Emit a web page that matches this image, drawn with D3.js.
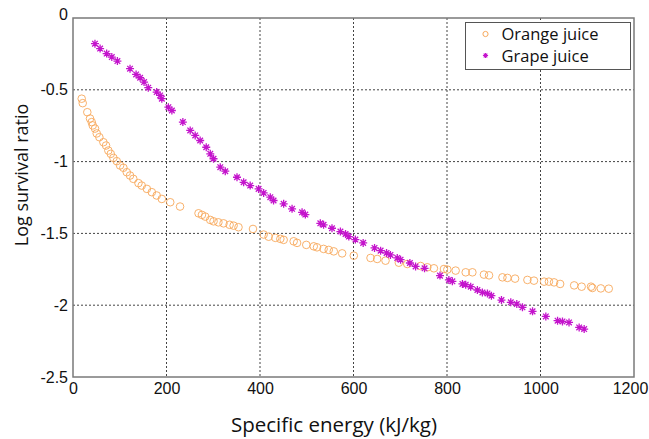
<!DOCTYPE html>
<html>
<head>
<meta charset="utf-8">
<script src="https://cdn.jsdelivr.net/npm/d3@7"></script>
<style>
  body { margin: 0; background: #fff; }
  svg { display: block; }
</style>
</head>
<body>
<div id="my_dataviz"></div>
<script>
// data: specific energy (kJ/kg) vs log survival ratio
var orangeX = [18.6, 20.8, 30.6, 36.4, 40, 42.2, 47.1, 50.8, 56.4, 65, 70.7, 75.6, 80.8, 86.4, 93.6, 100.7, 107.8, 115, 122, 129, 140, 147, 158, 168.6, 179, 190, 208, 229,
  268.5, 275.8, 282.8, 293.5, 300.6, 311, 322, 335, 343.5, 354, 385, 407.8, 418.5, 432.8, 443.5, 450.6, 472, 479.3, 499, 515, 522, 536, 547,
  557.8, 575.7, 600.6, 636.4, 650.7, 668.5, 697, 715, 743.5, 757.9, 772, 793.5, 800.7, 818.5, 840, 854.3, 879, 889.9, 918.6, 929.3, 945.6, 972, 986, 1007.7, 1018, 1029, 1042, 1072, 1088, 1108, 1111, 1129, 1146];
var orangeY = [-0.562, -0.593, -0.656, -0.70, -0.725, -0.748, -0.77, -0.804, -0.83, -0.865, -0.888, -0.923, -0.946, -0.974, -0.997, -1.027, -1.043, -1.074, -1.097, -1.12, -1.15, -1.167, -1.19, -1.213, -1.236, -1.26, -1.283, -1.313,
  -1.36, -1.371, -1.383, -1.406, -1.416, -1.423, -1.43, -1.44, -1.446, -1.457, -1.469, -1.508, -1.523, -1.531, -1.538, -1.545, -1.555, -1.566, -1.58, -1.59, -1.597, -1.608, -1.615,
  -1.625, -1.639, -1.655, -1.671, -1.678, -1.69, -1.704, -1.713, -1.727, -1.736, -1.743, -1.748, -1.752, -1.759, -1.771, -1.771, -1.787, -1.792, -1.806, -1.81, -1.815, -1.824, -1.829, -1.836, -1.836, -1.841, -1.852, -1.862, -1.871, -1.871, -1.88, -1.883, -1.885];

var grapeX = [47, 58, 72, 83, 95, 122, 135, 143.6, 152, 161, 179, 186.4, 190, 204, 211.5, 235, 250.7, 261.4, 272, 285, 293.6, 300.6, 315, 325.7, 350.8, 365, 379, 397, 407.8, 422, 429, 450.6, 468.6, 490,
  497, 529, 536, 554, 572, 583, 590, 604, 620.7, 645, 658, 670.7, 679, 693.6, 700.7, 720.6, 732.8, 752,
  785, 804, 811.5, 833, 840, 850.7, 865, 875.7, 886.5, 895, 916.5, 936.4, 949.3, 961.4, 983, 1011.4, 1036.5, 1047, 1061, 1082.7, 1093.4];
var grapeY = [-0.179, -0.213, -0.248, -0.272, -0.30, -0.353, -0.393, -0.416, -0.446, -0.485, -0.516, -0.539, -0.562, -0.621, -0.644, -0.725, -0.783, -0.818, -0.853, -0.9, -0.946, -0.98, -1.039, -1.067, -1.109, -1.144, -1.167, -1.19, -1.218, -1.248, -1.271, -1.294, -1.329, -1.353,
  -1.369, -1.43, -1.44, -1.464, -1.487, -1.504, -1.522, -1.543, -1.566, -1.601, -1.62, -1.636, -1.65, -1.671, -1.683, -1.706, -1.73, -1.743,
  -1.794, -1.824, -1.834, -1.852, -1.857, -1.871, -1.894, -1.911, -1.918, -1.934, -1.964, -1.98, -1.992, -2.015, -2.043, -2.078, -2.108, -2.113, -2.12, -2.155, -2.166];

var xTicks = [0, 200, 400, 600, 800, 1000, 1200];
var yTicks = [0, -0.5, -1, -1.5, -2, -2.5];
var seriesNames = ["Orange juice", "Grape juice"];

var orangeColor = "#f7a95c", grapeColor = "#c414cc";

// set the dimensions and margins of the graph
var margin = {top: 18, right: 15, bottom: 62, left: 73},
  width = 649 - margin.left - margin.right,
  height = 439 - margin.top - margin.bottom;

var svg = d3.select("#my_dataviz")
.append("svg")
  .attr("width", width + margin.left + margin.right)
  .attr("height", height + margin.top + margin.bottom)
.append("g")
  .attr("transform", "translate(" + margin.left + "," + margin.top + ")");

var x = d3.scaleLinear().domain([0, 1200]).range([0, width]);
var y = d3.scaleLinear().domain([-2.5, 0]).range([height, 0]);

// grid (dotted)
svg.append("g").selectAll("line")
  .data(xTicks.slice(1, -1))
  .enter().append("line")
    .attr("x1", function(d) { return x(d) }).attr("x2", function(d) { return x(d) })
    .attr("y1", 0).attr("y2", height)
    .style("stroke", "#444").style("stroke-width", 1).style("stroke-dasharray", "2,2");
svg.append("g").selectAll("line")
  .data(yTicks.slice(1, -1))
  .enter().append("line")
    .attr("y1", function(d) { return y(d) }).attr("y2", function(d) { return y(d) })
    .attr("x1", 0).attr("x2", width)
    .style("stroke", "#444").style("stroke-width", 1).style("stroke-dasharray", "2,2");

// axes box
svg.append("rect")
  .attr("width", width).attr("height", height)
  .style("fill", "none").style("stroke", "#7a7a7a").style("stroke-width", 1.5);

// axes ticks
var xAxis = svg.append("g")
  .attr("transform", "translate(0," + height + ")")
  .call(d3.axisBottom(x).tickValues(xTicks).tickSize(0).tickPadding(6).tickFormat(d3.format("d")));
xAxis.select(".domain").remove();
xAxis.selectAll("text").style("font-family", "Liberation Sans, Arial").style("font-size", "16px").style("fill", "#111");
xAxis.selectAll("text").filter(function(d) { return d === 1200 }).attr("dx", "-4");

var yAxis = svg.append("g")
  .call(d3.axisLeft(y).tickValues(yTicks).tickSize(0).tickPadding(5).tickFormat(function(d) { return d === 0 ? "0" : String(d) }));
yAxis.select(".domain").remove();
yAxis.selectAll("text").style("font-family", "Liberation Sans, Arial").style("font-size", "16px").style("fill", "#111");
yAxis.selectAll("text").filter(function(d) { return d === 0 }).attr("dy", "0.1em");

// orange circles
svg.append("g").selectAll("circle")
  .data(orangeX.map(function(v, i) { return [v, orangeY[i]] }))
  .enter().append("circle")
    .attr("cx", function(d) { return x(d[0]) })
    .attr("cy", function(d) { return y(d[1]) })
    .attr("r", 3.8)
    .style("fill", "none").style("stroke", orangeColor).style("stroke-width", 1).style("opacity", 0.9);

// grape asterisks
var star = function(s) {
  return "M" + (-s) + ",0L" + s + ",0M0," + (-s) + "L0," + s +
    "M" + (-s * 0.7) + "," + (-s * 0.7) + "L" + (s * 0.7) + "," + (s * 0.7) +
    "M" + (-s * 0.7) + "," + (s * 0.7) + "L" + (s * 0.7) + "," + (-s * 0.7);
};
svg.append("g").selectAll("path")
  .data(grapeX.map(function(v, i) { return [v, grapeY[i]] }))
  .enter().append("path")
    .attr("d", star(4))
    .attr("transform", function(d) { return "translate(" + x(d[0]) + "," + y(d[1]) + ")" })
    .style("fill", "none").style("stroke", grapeColor).style("stroke-width", 1.3);

// legend
var legend = svg.append("g").attr("transform", "translate(" + (465.5 - margin.left) + "," + (22.5 - margin.top) + ")");
legend.append("rect").attr("width", 165).attr("height", 47)
  .style("fill", "#fff").style("stroke", "#555").style("stroke-width", 1);
legend.append("circle").attr("cx", 20).attr("cy", 11.5).attr("r", 2.6)
  .style("fill", "none").style("stroke", orangeColor).style("stroke-width", 1);
legend.append("path").attr("d", star(2.6)).attr("transform", "translate(20,33)")
  .style("fill", "none").style("stroke", grapeColor).style("stroke-width", 1.2);
legend.selectAll("text.lbl")
  .data(seriesNames)
  .enter().append("text")
    .attr("x", 36)
    .attr("y", function(d, i) { return 11.5 + i * 22 })
    .attr("dy", "0.35em")
    .style("font-family", "Open Sans, sans-serif")
    .style("font-size", "16.5px")
    .style("fill", "#111")
    .text(function(d) { return d });

// axis titles
svg.append("text")
  .attr("x", 334 - margin.left)
  .attr("y", height + 55)
  .attr("text-anchor", "middle")
  .style("font-family", "Open Sans, sans-serif")
  .style("font-size", "20.5px")
  .style("fill", "#111")
  .text("Specific energy (kJ/kg)");

svg.append("text")
  .attr("transform", "translate(" + (-45) + "," + (175 - margin.top) + ") rotate(-90)")
  .attr("text-anchor", "middle")
  .style("font-family", "Open Sans, sans-serif")
  .style("font-size", "18px")
  .style("fill", "#111")
  .text("Log survival ratio");
</script>
</body>
</html>
